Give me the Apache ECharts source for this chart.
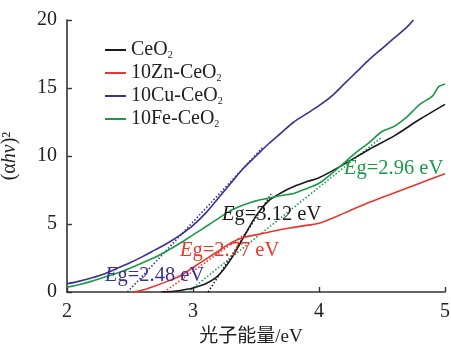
<!DOCTYPE html>
<html>
<head>
<meta charset="utf-8">
<script src="https://cdn.jsdelivr.net/npm/echarts@6/dist/echarts.min.js"></script>
<style>
  html, body { margin: 0; padding: 0; background: #fff; }
  #main { width: 451px; height: 350px; }
</style>
</head>
<body>
<div id="main"></div>
<script>
// series names
const names = ['CeO2', '10Zn-CeO2', '10Cu-CeO2', '10Fe-CeO2'];

// photon energy (eV) and (ahv)^2
const ceoX = [2.75, 2.85, 2.95, 3.0, 3.1, 3.2, 3.3, 3.4, 3.5, 3.6, 3.7, 3.8, 3.9, 4.0, 4.2, 4.4, 4.6, 4.8, 5.0];
const ceoY = [0, 0.05, 0.2, 0.3, 0.6, 1.2, 2.4, 4.0, 5.6, 6.7, 7.3, 7.75, 8.1, 8.4, 9.4, 10.5, 11.5, 12.7, 13.8];

const znX = [2.52, 2.6, 2.7, 2.8, 2.9, 3.0, 3.1, 3.2, 3.3, 3.4, 3.5, 3.6, 3.7, 3.8, 3.9, 4.0, 4.2, 4.4, 4.6, 4.8, 5.0];
const znY = [0, 0.15, 0.45, 0.8, 1.2, 1.8, 2.4, 3.0, 3.6, 4.0, 4.2, 4.4, 4.6, 4.75, 4.9, 5.05, 5.8, 6.6, 7.3, 8.0, 8.7];

const cuX = [2.0, 2.1, 2.2, 2.3, 2.4, 2.5, 2.6, 2.7, 2.8, 2.9, 3.0, 3.1, 3.2, 3.3, 3.4, 3.5, 3.6, 3.7, 3.8, 3.9, 4.0, 4.1, 4.2, 4.3, 4.4, 4.5, 4.6, 4.7, 4.75];
const cuY = [0.6, 0.8, 1.05, 1.35, 1.75, 2.15, 2.6, 3.1, 3.6, 4.2, 4.9, 5.8, 6.9, 8.0, 9.1, 10.0, 10.9, 11.7, 12.5, 13.1, 13.7, 14.4, 15.3, 16.2, 17.1, 17.9, 18.7, 19.5, 20.0];

const feX = [2.0, 2.1, 2.2, 2.3, 2.4, 2.5, 2.6, 2.7, 2.8, 2.9, 3.0, 3.1, 3.2, 3.3, 3.4, 3.5, 3.6, 3.7, 3.8, 3.9, 4.0, 4.1, 4.2, 4.3, 4.4, 4.5, 4.6, 4.7, 4.8, 4.9, 4.95, 5.0];
const feY = [0.35, 0.55, 0.8, 1.1, 1.4, 1.75, 2.15, 2.55, 3.05, 3.6, 4.2, 4.8, 5.4, 6.0, 6.4, 6.7, 6.9, 7.1, 7.25, 7.6, 8.0, 8.7, 9.5, 10.3, 11.0, 11.8, 12.2, 12.9, 13.8, 14.4, 15.1, 15.3];

// tangent (dotted) lines: band gap and end point
const eg = [3.12, 2.77, 2.48, 2.96];
const tanEndX = [3.62, 3.42, 3.55, 4.5];
const tanEndY = [7.2, 4.3, 10.6, 11.4];

const xTicks = [2, 3, 4, 5];
const yTicks = [0, 5, 10, 15, 20];

const colors = ['#1a1a1a', '#e8372a', '#3b3192', '#1b9a4a'];
const serif = 'Liberation Serif, Times New Roman, serif';

const zip = (xs, ys) => xs.map((x, i) => [x, ys[i]]);
const curves = [zip(ceoX, ceoY), zip(znX, znY), zip(cuX, cuY), zip(feX, feY)];

const series = [];
curves.forEach((d, i) => {
  series.push({
    name: names[i],
    type: 'line',
    data: d,
    showSymbol: false,
    smooth: 0.3,
    lineStyle: { color: colors[i], width: 1.6 },
    itemStyle: { color: colors[i] },
    z: 3,
  });
});
eg.forEach((e, i) => {
  series.push({
    type: 'line',
    data: [[e, 0], [tanEndX[i], tanEndY[i]]],
    showSymbol: false,
    lineStyle: { color: colors[i], width: 1.6, type: [1.5, 2] },
    z: 2,
  });
});

const chart = echarts.init(document.getElementById('main'), null, { renderer: 'canvas' });

const egText = (label, x, y, color) => ({
  type: 'text',
  left: x,
  top: y,
  style: {
    text: '{i|E}g=' + label + ' eV',
    fill: color,
    font: '20.5px ' + serif,
    rich: { i: { fontStyle: 'italic', fontSize: 20.5, fontFamily: serif, fill: color } },
  },
  z: 10,
});

chart.setOption({
  animation: false,
  backgroundColor: '#fff',
  grid: { left: 67, right: 6, top: 20, bottom: 58, outerBoundsMode: 'none', containLabel: false },
  legend: {
    data: names,
    orient: 'vertical',
    left: 100,
    top: 35,
    icon: 'rect',
    itemWidth: 21,
    itemHeight: 2,
    itemGap: 3,
    formatter: n => n.replace('O2', 'O{s|2}'),
    textStyle: {
      fontFamily: serif,
      fontSize: 20,
      color: '#222',
      lineHeight: 20,
      rich: { s: { fontSize: 10, fontFamily: serif, color: '#222', verticalAlign: 'bottom', lineHeight: 20 } },
    },
  },
  xAxis: {
    type: 'value',
    min: xTicks[0],
    max: xTicks[xTicks.length - 1],
    interval: 1,
    name: '光子能量/eV',
    nameLocation: 'middle',
    nameGap: 36,
    nameMoveOverlap: false,
    nameTextStyle: { fontFamily: serif + ', Noto Sans CJK SC', fontSize: 19, color: '#222', padding: [0, 10, 0, 0] },
    axisLine: { lineStyle: { color: '#333', width: 1.6 } },
    axisTick: { inside: true, length: 5, lineStyle: { color: '#333', width: 1.4 } },
    axisLabel: { fontFamily: serif, fontSize: 20, color: '#222', margin: 10 },
    splitLine: { show: false },
  },
  yAxis: {
    type: 'value',
    min: yTicks[0],
    max: yTicks[yTicks.length - 1],
    interval: 5,
    name: '(α{i|hν})²',
    nameLocation: 'middle',
    nameGap: 47,
    nameMoveOverlap: false,
    nameTextStyle: {
      fontFamily: serif, fontSize: 20, color: '#222',
      rich: { i: { fontStyle: 'italic', fontFamily: serif, fontSize: 20, color: '#222' } },
    },
    axisLine: { show: true, lineStyle: { color: '#333', width: 1.6 } },
    axisTick: { show: true, inside: true, length: 5, lineStyle: { color: '#333', width: 1.4 } },
    axisLabel: { fontFamily: serif, fontSize: 20, color: '#222', margin: 10 },
    splitLine: { show: false },
  },
  graphic: [
    egText('2.48', 105, 265, colors[2]),
    egText('2.77', 180, 240, colors[1]),
    egText('3.12', 222, 204, colors[0]),
    egText('2.96', 344, 158, colors[3]),
  ],
  series: series,
});
</script>
</body>
</html>
